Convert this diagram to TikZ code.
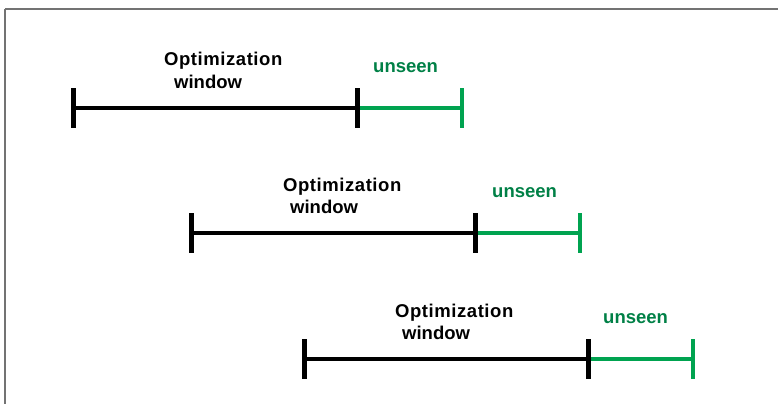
\documentclass[tikz,border=0pt]{standalone}
\usepackage{fontspec}
\setmainfont{Liberation Sans}
\definecolor{lineGreen}{RGB}{0,163,80}
\definecolor{textGreen}{RGB}{0,128,70}
\definecolor{frameGray}{RGB}{115,115,115}
\tikzset{
  lbl/.style={anchor=base west, inner sep=0pt, font=\fontsize{18.5}{22}\selectfont\bfseries},
  optlbl/.style={lbl, text=black},
  unslbl/.style={lbl, text=textGreen},
  seenline/.style={draw=black, line width=4.5pt},
  unseenline/.style={draw=lineGreen, line width=4.5pt},
  blacktick/.style={draw=black, line width=5pt},
  greentick/.style={draw=lineGreen, line width=4pt},
}
\begin{document}
\begin{tikzpicture}[x=1pt,y=-1pt]
\useasboundingbox (0,0) rectangle (778,404);
% frame
\coordinate (ftl) at (5,9);
\coordinate (ftr) at (778,9);
\coordinate (fbl) at (5,404);
\draw[frameGray, line width=2pt] (ftl) -- (ftr);
\draw[frameGray, line width=1.3pt] (ftl) -- (fbl);
% rows: start x, split x, end x, line y, text offsets
\foreach \i/\xa/\xb/\xc/\y/\xo/\xw/\xu in {1/73/357/462/108/164/174/373, 2/191/475/580/233/283/290/492, 3/304/588/693/359/395/402/603}{
  \coordinate (a\i) at (\xa,\y);
  \coordinate (b\i) at (\xb,\y);
  \coordinate (c\i) at (\xc,\y);
  \path[seenline] (a\i) -- (b\i);
  \path[unseenline] (b\i) -- (c\i);
  \path[blacktick] ([yshift=20pt]a\i) -- ([yshift=-20pt]a\i);
  \path[blacktick] ([yshift=20pt]b\i) -- ([yshift=-20pt]b\i);
  \path[greentick] ([yshift=20pt]c\i) -- ([yshift=-20pt]c\i);
  \node[optlbl] (opt\i) at (\xo,\y-42) {\addfontfeature{LetterSpace=3}Optimization};
  \node[optlbl] (win\i) at (\xw,\y-20) {window};
  \node[unslbl] (uns\i) at (\xu,\y-36) {unseen};
}
\end{tikzpicture}
\end{document}
